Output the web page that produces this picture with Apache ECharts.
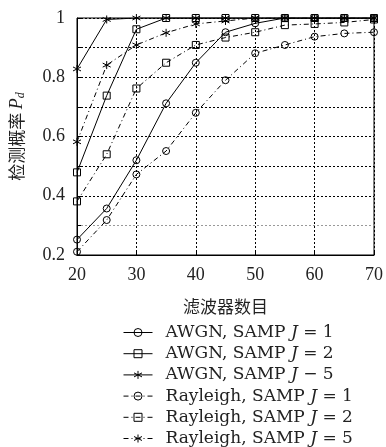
<!DOCTYPE html>
<html>
<head>
<meta charset="utf-8">
<script src="https://cdn.jsdelivr.net/npm/echarts@6/dist/echarts.min.js"></script>
<style>
html,body{margin:0;padding:0;background:#fff;}
#c{width:386px;height:447px;}
</style>
</head>
<body>
<div id="c"></div>
<script>
var filterCounts = [20, 25, 30, 35, 40, 45, 50, 55, 60, 65, 70];
var awgnJ1 = [0.252, 0.357, 0.520, 0.712, 0.849, 0.952, 0.982, 1.0, 1.0, 1.0, 1.0];
var awgnJ2 = [0.479, 0.738, 0.962, 1.0, 1.0, 1.0, 1.0, 1.0, 1.0, 1.0, 1.0];
var awgnJ5 = [0.828, 0.995, 1.0, 1.0, 1.0, 1.0, 1.0, 1.0, 1.0, 1.0, 1.0];
var rayJ1 = [0.211, 0.318, 0.472, 0.551, 0.680, 0.790, 0.881, 0.909, 0.937, 0.948, 0.952];
var rayJ2 = [0.381, 0.540, 0.762, 0.849, 0.909, 0.934, 0.952, 0.976, 0.980, 0.985, 0.995];
var rayJ5 = [0.582, 0.841, 0.909, 0.950, 0.980, 0.990, 1.0, 1.0, 1.0, 1.0, 1.0];
var seriesNames = [
  'AWGN, SAMP {i|J} = 1',
  'AWGN, SAMP {i|J} = 2',
  'AWGN, SAMP {i|J} − 5',
  'Rayleigh, SAMP {i|J} = 1',
  'Rayleigh, SAMP {i|J} = 2',
  'Rayleigh, SAMP {i|J} = 5'
];
var xTicks = [20, 30, 40, 50, 60, 70];
var yTickLabels = ['0.2', '0.4', '0.6', '0.8', '1'];
var xTitle = '滤波器数目';
var yTitle = '检测概率';

var SERIF = '"Liberation Serif", "DejaVu Serif", serif';
var WSERIF = '"DejaVu Serif", "Liberation Serif", serif';
var CJK = '"Noto Sans CJK SC", sans-serif';
var STAR = 'path://M5,0L5,10M0.67,2.5L9.33,7.5M0.67,7.5L9.33,2.5';
var dashDot = [5, 3, 1, 3];

function zip(ys) { return filterCounts.map(function (x, i) { return [x, ys[i]]; }); }

function mk(name, data, symbol, dashed, size) {
  return {
    name: name,
    type: 'line',
    data: zip(data),
    symbol: symbol,
    symbolSize: size,
    showSymbol: true,
    lineStyle: { color: '#000', width: 1, type: dashed ? dashDot : 'solid' },
    itemStyle: { color: 'rgba(0,0,0,0)', borderColor: '#000', borderWidth: 1 },
    emphasis: { disabled: true },
    z: 3
  };
}

var chart = echarts.init(document.getElementById('c'), null, { renderer: 'canvas' });
chart.setOption({
  animation: false,
  backgroundColor: '#fff',
  grid: { left: 75, right: 6, top: 18, bottom: 192, show: true, borderColor: '#000', borderWidth: 1, containLabel: false },
  xAxis: {
    type: 'value', min: 20, max: 70, interval: 10,
    name: xTitle, nameLocation: 'middle', nameGap: 43,
    nameTextStyle: { fontFamily: CJK, fontSize: 17, color: '#222' },
    axisLine: { show: true, onZero: false, lineStyle: { color: '#000', width: 1 } },
    axisTick: { show: true, inside: true, length: 4, lineStyle: { color: '#000' } },
    axisLabel: {
      fontFamily: SERIF, fontSize: 18, color: '#222', margin: 11,
      formatter: function (v) { return xTicks.indexOf(v) >= 0 ? String(v) : ''; }
    },
    splitLine: { show: true, lineStyle: { color: '#000', width: 1, type: [2, 2] } }
  },
  yAxis: {
    type: 'value', min: 0.2, max: 1, interval: 0.1,
    name: '{c|' + yTitle + '} {p|P}{d|d}', nameLocation: 'middle', nameGap: 50, nameRotate: 90,
    nameTextStyle: {
      rich: {
        c: { fontFamily: CJK, fontSize: 17, color: '#222' },
        p: { fontFamily: SERIF, fontSize: 18, fontStyle: 'italic', color: '#222' },
        d: { fontFamily: SERIF, fontSize: 12, fontStyle: 'italic', color: '#222', verticalAlign: 'bottom', padding: [8, 0, 0, 0] }
      }
    },
    axisLine: { show: true, onZero: false, lineStyle: { color: '#000', width: 1 } },
    axisTick: { show: true, inside: true, length: 4, lineStyle: { color: '#000' } },
    axisLabel: {
      fontFamily: SERIF, fontSize: 18, color: '#222', margin: 12,
      formatter: function (v) {
        var k = Math.round(v * 10);
        if (k % 2 !== 0) return '';
        var idx = (k - 2) / 2;
        return yTickLabels[idx] || '';
      }
    },
    splitLine: { show: true, lineStyle: { color: ['#000', '#999', '#000', '#000', '#000', '#000', '#000', '#000', '#000'], width: 1, type: [2, 2] } }
  },
  legend: {
    orient: 'vertical', left: 123, top: 324, height: 160, padding: 0,
    itemWidth: 29, itemHeight: 10, itemGap: 4.2,
    data: seriesNames,
    formatter: function (n) { return n; },
    lineStyle: { width: 1 },
    itemStyle: { borderWidth: 1 },
    textStyle: {
      fontFamily: WSERIF, fontSize: 17, color: '#222', lineHeight: 16.5, padding: [0, 0, 0, 8],
      rich: { i: { fontFamily: WSERIF, fontSize: 17, fontStyle: 'italic', color: '#222', lineHeight: 16.5 } }
    },
    inactiveColor: '#000'
  },
  series: [
    mk(seriesNames[0], awgnJ1, 'circle', false, 7),
    mk(seriesNames[1], awgnJ2, 'rect', false, 7),
    mk(seriesNames[2], awgnJ5, STAR, false, 8),
    mk(seriesNames[3], rayJ1, 'circle', true, 7),
    mk(seriesNames[4], rayJ2, 'rect', true, 7),
    mk(seriesNames[5], rayJ5, STAR, true, 8)
  ]
});
</script>
</body>
</html>
